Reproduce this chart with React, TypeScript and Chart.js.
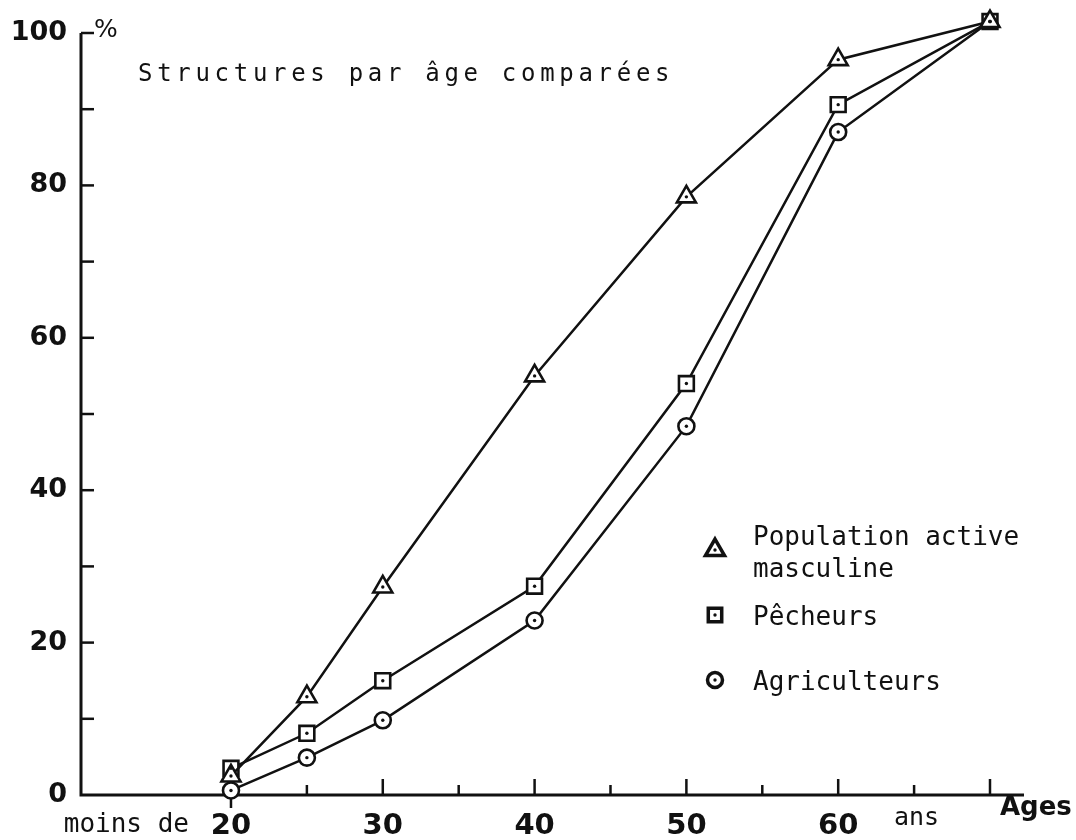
import React, { useEffect, useRef } from 'react';
import { Chart, registerables } from 'chart.js';
import { drawPoint } from 'chart.js/helpers';

Chart.register(...registerables);

// ---- data ----
const AGES = [20, 25, 30, 40, 50, 60, 70];
const POP_ACTIVE = [2.5, 12.9, 27.3, 55.0, 78.5, 96.5, 101.5];
const PECHEURS = [3.5, 8.1, 15.0, 27.4, 54.0, 90.6, 101.5];
const AGRICULTEURS = [0.6, 4.9, 9.8, 22.9, 48.4, 87.0, 101.5];

const X_TICKS = [20, 25, 30, 35, 40, 45, 50, 55, 60, 65, 70];
const X_LABELS = [20, 30, 40, 50, 60];
const Y_TICKS = [0, 10, 20, 30, 40, 50, 60, 70, 80, 90, 100];
const Y_LABELS = [0, 20, 40, 60, 80, 100];

const SERIES_NAMES = ['Population active masculine', 'Pêcheurs', 'Agriculteurs'];
const LEGEND_LINES = [['Population active', 'masculine'], ['Pêcheurs'], ['Agriculteurs']];
const POINT_STYLES = ['triangle', 'rect', 'circle'];
const POINT_RADII = [11, 10.5, 8];

const TITLE = 'Structures par âge comparées';
const X_PREFIX = 'moins de';
const X_UNIT = 'ans';
const X_TITLE = 'Ages';
const Y_UNIT = '%';

const INK = '#111';

const axesPlugin = {
  id: 'handAxes',
  beforeDatasetsDraw(chart: any) {
    const { ctx, chartArea: a, scales } = chart;
    const x = scales.x;
    const y = scales.y;
    ctx.save();
    ctx.strokeStyle = INK;
    ctx.lineCap = 'butt';
    ctx.lineWidth = 3;
    ctx.beginPath();
    ctx.moveTo(a.left, y.getPixelForValue(100));
    ctx.lineTo(a.left, a.bottom);
    ctx.lineTo(a.right, a.bottom);
    ctx.stroke();
    ctx.lineWidth = 2.5;
    y.ticks.forEach((t: any) => {
      if (t.value === 0) return;
      const py = y.getPixelForValue(t.value);
      ctx.beginPath();
      ctx.moveTo(a.left, py);
      ctx.lineTo(a.left + 13, py);
      ctx.stroke();
    });
    x.ticks.forEach((t: any) => {
      const px = x.getPixelForValue(t.value);
      ctx.beginPath();
      if (t.value === X_TICKS[0]) {
        ctx.moveTo(px, a.bottom);
        ctx.lineTo(px, a.bottom + 13);
      } else {
        const len = t.value % 10 === 0 ? 16 : 10;
        ctx.moveTo(px, a.bottom);
        ctx.lineTo(px, a.bottom - len);
      }
      ctx.stroke();
    });
    ctx.restore();
  },
};

const dotsPlugin = {
  id: 'centerDots',
  afterDatasetsDraw(chart: any) {
    const { ctx } = chart;
    ctx.save();
    ctx.fillStyle = INK;
    chart.data.datasets.forEach((_: any, i: number) => {
      const meta = chart.getDatasetMeta(i);
      meta.data.forEach((p: any) => {
        ctx.beginPath();
        ctx.arc(p.x, p.y, 1.7, 0, Math.PI * 2);
        ctx.fill();
      });
    });
    ctx.restore();
  },
};

const decorPlugin = {
  id: 'decor',
  afterDraw(chart: any) {
    const { ctx, chartArea: a, scales } = chart;
    const x = scales.x;
    const y = scales.y;
    ctx.save();
    ctx.fillStyle = INK;
    ctx.strokeStyle = INK;

    // title
    ctx.font = '24px "DejaVu Sans Mono"';
    (ctx as any).letterSpacing = '4.7px';
    ctx.textAlign = 'left';
    ctx.textBaseline = 'middle';
    ctx.fillText(TITLE, 138, 75);
    (ctx as any).letterSpacing = '0px';

    // percent sign
    ctx.font = '25px "DejaVu Sans"';
    ctx.fillText(Y_UNIT, a.left + 13, y.getPixelForValue(100) - 3);

    // x axis extras
    ctx.font = '26px "DejaVu Sans Mono"';
    ctx.textAlign = 'right';
    ctx.fillText(X_PREFIX, x.getPixelForValue(20) - 42, 825);
    ctx.font = '25px "DejaVu Sans Mono"';
    ctx.textAlign = 'left';
    ctx.fillText(X_UNIT, 894, 818);
    ctx.font = 'bold 26px "DejaVu Sans"';
    ctx.fillText(X_TITLE, 1000, 808);

    // legend
    const textY = [538, 618, 683];
    const markY = [550, 615, 680];
    const legR = [11, 9.5, 7.5];
    ctx.font = '26px "DejaVu Sans Mono"';
    LEGEND_LINES.forEach((lines, i) => {
      ctx.fillStyle = '#fff';
      ctx.strokeStyle = INK;
      ctx.lineWidth = 3.5;
      drawPoint(ctx, { pointStyle: POINT_STYLES[i], radius: legR[i], borderWidth: 3.5, rotation: 0 } as any, 715, markY[i]);
      ctx.fillStyle = INK;
      ctx.beginPath();
      ctx.arc(715, markY[i], 1.7, 0, Math.PI * 2);
      ctx.fill();
      lines.forEach((ln, j) => {
        ctx.textAlign = 'left';
        ctx.textBaseline = 'middle';
        ctx.fillText(ln, 753, textY[i] + j * 32);
      });
    });
    ctx.restore();
  },
};

export default function App() {
  const ref = useRef<HTMLCanvasElement | null>(null);

  useEffect(() => {
    if (!ref.current) return;
    const series = [POP_ACTIVE, PECHEURS, AGRICULTEURS];
    const chart = new Chart(ref.current, {
      type: 'line',
      data: {
        datasets: series.map((vals, i) => ({
          label: SERIES_NAMES[i],
          data: AGES.map((a, k) => ({ x: a, y: vals[k] })),
          borderColor: INK,
          borderWidth: 2.5,
          backgroundColor: '#fff',
          pointStyle: POINT_STYLES[i] as any,
          pointRadius: POINT_RADII[i],
          pointBorderWidth: 2.6,
          pointBackgroundColor: '#fff',
          pointBorderColor: INK,
          tension: 0,
          clip: false as any,
        })),
      },
      options: {
        animation: false,
        responsive: true,
        maintainAspectRatio: false,
        layout: { padding: { top: 33, right: 52, bottom: 0, left: 0 } },
        plugins: {
          legend: { display: false },
          title: { display: false },
          tooltip: { enabled: false },
        },
        scales: {
          x: {
            type: 'linear',
            min: 10.12,
            max: 72.24,
            afterBuildTicks: (s: any) => {
              s.ticks = X_TICKS.map((v) => ({ value: v }));
            },
            afterFit: (s: any) => {
              s.height = 45;
            },
            ticks: {
              autoSkip: false,
              maxRotation: 0,
              padding: 14,
              color: INK,
              font: { family: 'DejaVu Sans', size: 29, weight: 'bold' },
              callback: (v: any) => (X_LABELS.includes(Number(v)) ? String(v) : ''),
            },
            grid: { display: false, drawTicks: false },
            border: { display: false },
          },
          y: {
            type: 'linear',
            min: 0,
            max: 100,
            afterBuildTicks: (s: any) => {
              s.ticks = Y_TICKS.map((v) => ({ value: v }));
            },
            afterFit: (s: any) => {
              s.width = 81;
            },
            ticks: {
              autoSkip: false,
              padding: 14,
              color: INK,
              font: { family: 'DejaVu Sans', size: 27, weight: 'bold' },
              callback: (v: any) => (Y_LABELS.includes(Number(v)) ? String(v) : ''),
            },
            grid: { display: false, drawTicks: false },
            border: { display: false },
          },
        },
      },
      plugins: [axesPlugin, dotsPlugin, decorPlugin],
    });
    return () => chart.destroy();
  }, []);

  return (
    <div style={{ position: 'fixed', left: 0, top: 0, width: 1076, height: 840, background: '#fff' }}>
      <canvas ref={ref} />
    </div>
  );
}
